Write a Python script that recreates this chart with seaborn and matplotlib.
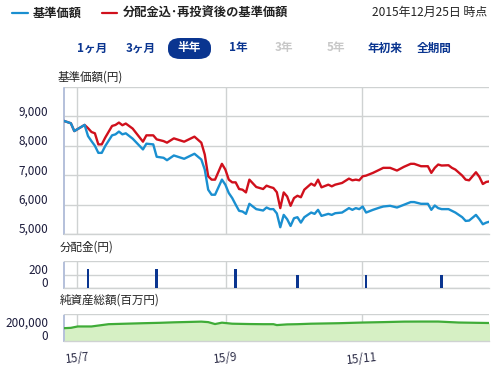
import matplotlib
matplotlib.use("Agg")
import matplotlib.pyplot as plt
import matplotlib.transforms as mtransforms
from matplotlib.patches import FancyBboxPatch
from matplotlib.lines import Line2D
import seaborn as sns
import pandas as pd

sns.set_theme(style="white")
plt.rcParams['font.family'] = ['Noto Sans CJK JP', 'DejaVu Sans']

# ---------------- data ----------------
day = [0, 2, 3, 6, 7, 8, 9, 10, 11, 12, 14, 15, 16, 17, 18, 20, 23, 24, 26, 27,
       29, 30, 32, 35, 38, 40, 41, 42, 43, 44, 46, 47, 48, 49, 50, 51, 52, 53, 54, 56,
       58, 59, 60, 61, 62, 63, 64, 65, 66, 67, 68, 69, 70, 72, 73, 74, 75, 77, 78, 79,
       81, 83, 84, 85, 86, 87, 88, 90, 92, 93, 95, 97, 99, 101, 102, 104, 106, 107, 108, 109,
       110, 112, 113, 114, 116, 117, 118, 120, 121, 122, 123, 124]
nav = [8846, 8767, 8500, 8710, 8330, 8160, 8000, 7760, 7760, 7990, 8356, 8390, 8483, 8390, 8425, 8243, 7877, 8072, 8048, 7627,
       7592, 7510, 7671, 7558, 7729, 7534, 7192, 6507, 6336, 6336, 6850, 6678, 6394, 6223, 6000, 5788, 5765, 5685, 6027, 5846,
       5799, 5901, 5846, 5846, 5700, 5229, 5650, 5503, 5274, 5537, 5571, 5387, 5571, 5730, 5685, 5822, 5616, 5685, 5650, 5707,
       5730, 5880, 5822, 5880, 5846, 5935, 5730, 5822, 5901, 5935, 5959, 5901, 5993, 6086, 6086, 6027, 6027, 5822, 5970, 5880,
       5846, 5846, 5788, 5730, 5571, 5445, 5456, 5650, 5503, 5332, 5387, 5421]
nav_reinv = [8846, 8767, 8500, 8710, 8600, 8470, 8425, 8048, 8048, 8277, 8675, 8710, 8790, 8700, 8757, 8586, 8140, 8356, 8356, 8219,
             8160, 8106, 8253, 8140, 8311, 8106, 7705, 6963, 6849, 6849, 7387, 7192, 6849, 6757, 6757, 6530, 6507, 6414, 6849, 6599,
             6530, 6644, 6599, 6565, 6420, 5880, 6414, 6277, 5959, 6222, 6301, 6250, 6507, 6712, 6644, 6849, 6587, 6678, 6621, 6678,
             6736, 6884, 6826, 6849, 6826, 6962, 6986, 7079, 7192, 7250, 7250, 7158, 7284, 7387, 7387, 7305, 7305, 7079, 7250, 7363,
             7329, 7339, 7250, 7192, 6986, 6849, 6826, 7100, 6942, 6700, 6771, 6791]

dist_day = [7, 27, 50, 68, 88, 110]
dist_value = [280, 280, 280, 200, 200, 200]

asset_day = [0, 2, 4, 8, 13, 18, 23, 28, 32, 36, 40, 42, 44, 46, 49, 54, 58, 61, 62, 65, 68, 72, 80, 87, 93, 99, 104, 109, 115, 120, 124]
asset_value = [190000, 195000, 215000, 215000, 248000, 255000, 262000, 268000, 275000, 280000, 285000, 278000, 250000, 270000, 255000,
               250000, 248000, 248000, 235000, 245000, 248000, 255000, 262000, 272000, 278000, 285000, 286000, 286000, 272000, 268000, 265000]

tick_pos = [3.9, 47.1, 86.8]
tick_labels = ["15/7", "15/9", "15/11"]

nav_ticks = [5000, 6000, 7000, 8000, 9000, 10000]
nav_labels = ["5,000", "6,000", "7,000", "8,000", "9,000", ""]
dist_ticks = [0, 200, 400]
dist_labels = ["0", "200", ""]
asset_ticks = [0, 200000, 400000]
asset_labels = ["0", "200,000", ""]

legend_labels = ["基準価額", "分配金込･再投資後の基準価額"]
period_buttons = ["1ヶ月", "3ヶ月", "半年", "1年", "3年", "5年", "年初来", "全期間"]
date_text = "2015年12月25日 時点"

# ---------------- style ----------------
BLUE = "#1a8fd0"
RED = "#d0101c"
NAVY = "#0a3590"
GRID = "#cfd2d2"
TXT = "#1c1c3c"
SPINE_L = "#b4c0da"

W, H = 495, 375
fig = plt.figure(figsize=(W / 100, H / 100), dpi=100)
fig.patch.set_facecolor("white")


def ax_at(top_px, bot_px):
    return fig.add_axes([64 / W, 1 - bot_px / H, 425 / W, (bot_px - top_px) / H])


ax1 = ax_at(87, 234)
ax2 = ax_at(260.7, 288.3)
ax3 = ax_at(313.7, 341.3)

df = pd.DataFrame({"day": day, "nav": nav, "reinv": nav_reinv})
sns.lineplot(data=df, x="day", y="reinv", ax=ax1, color=RED, lw=1.7, zorder=3)
sns.lineplot(data=df, x="day", y="nav", ax=ax1, color=BLUE, lw=1.7, zorder=4)
ax1.set_ylim(5000, 10000)
ax1.set_yticks(nav_ticks)
ax1.set_yticklabels(nav_labels)

ax2.bar(dist_day, dist_value, width=0.75, color=NAVY, zorder=3, lw=0)
ax2.set_ylim(0, 400)
ax2.set_yticks(dist_ticks)
ax2.set_yticklabels(dist_labels)

adf = pd.DataFrame({"day": asset_day, "v": asset_value})
ax3.fill_between(asset_day, asset_value, 0, color="#d6f0c4", zorder=2, lw=0)
sns.lineplot(data=adf, x="day", y="v", ax=ax3, color="#40ac38", lw=1.6, zorder=3)
ax3.set_ylim(0, 400000)
ax3.set_yticks(asset_ticks)
ax3.set_yticklabels(asset_labels)

offset = mtransforms.ScaledTranslation(0, 6 / 100, fig.dpi_scale_trans)
for ax in (ax1, ax2, ax3):
    ax.set_xlim(0, 123.8)
    ax.set_xticks(tick_pos)
    ax.set_xlabel("")
    ax.set_ylabel("")
    ax.grid(True, color=GRID, lw=1.0, zorder=0)
    ax.set_axisbelow(True)
    for s in ("top", "right"):
        ax.spines[s].set_visible(False)
    ax.spines["bottom"].set_color(GRID)
    ax.spines["bottom"].set_linewidth(1.0)
    ax.spines["left"].set_color(SPINE_L)
    ax.spines["left"].set_linewidth(1.4)
    ax.spines["left"].set_linestyle((0, (1, 1)))
    ax.tick_params(axis="y", length=0, pad=11.5, labelsize=8.5, labelcolor=TXT)
    for lab in ax.get_yticklabels():
        lab.set_transform(lab.get_transform() + offset)
    if ax is not ax3:
        ax.tick_params(axis="x", length=0, labelbottom=False)

ax3.set_xticklabels(tick_labels)
ax3.tick_params(axis="x", length=6.5, width=0.9, color=SPINE_L, pad=0,
                labelsize=8.5, labelcolor="#30304a", labelrotation=6)

# panel titles
fig.text(58 / W, 1 - 77 / H, "基準価額(円)", fontsize=8.3, color="#222", va="center", ha="left")
fig.text(60 / W, 1 - 247 / H, "分配金(円)", fontsize=8.3, color="#222", va="center", ha="left")
fig.text(60 / W, 1 - 300 / H, "純資産総額(百万円)", fontsize=8.3, color="#222", va="center", ha="left")

# header legend
for x0, x1, c, lab, tx in [(12, 28, BLUE, legend_labels[0], 33), (102, 117, RED, legend_labels[1], 123)]:
    fig.add_artist(Line2D([x0 / W, x1 / W], [1 - 13 / H, 1 - 13 / H], color=c, lw=1.6))
    fig.text(tx / W, 1 - 13 / H, lab, fontsize=8.8, color="#222", va="center", ha="left", fontweight="bold")
fig.text(487 / W, 1 - 12 / H, date_text, fontsize=8.6, color="#222", va="center", ha="right")

# period buttons
btn_x = [92, 141, 189, 238, 284, 336, 385, 434]
btn_col = [NAVY, NAVY, "white", NAVY, "#c8c8c8", "#c8c8c8", NAVY, NAVY]
pill = FancyBboxPatch((168 / W, 1 - 59 / H), 43 / W, 21 / H,
                      boxstyle="round,pad=0,rounding_size=0.025", transform=fig.transFigure,
                      facecolor=NAVY, edgecolor="none")
fig.add_artist(pill)
for x, lab, c in zip(btn_x, period_buttons, btn_col):
    fig.text(x / W, 1 - 48 / H, lab, fontsize=8.4, color=c, va="center", ha="center", fontweight="bold")

fig.savefig("out.png", dpi=100, facecolor="white")
